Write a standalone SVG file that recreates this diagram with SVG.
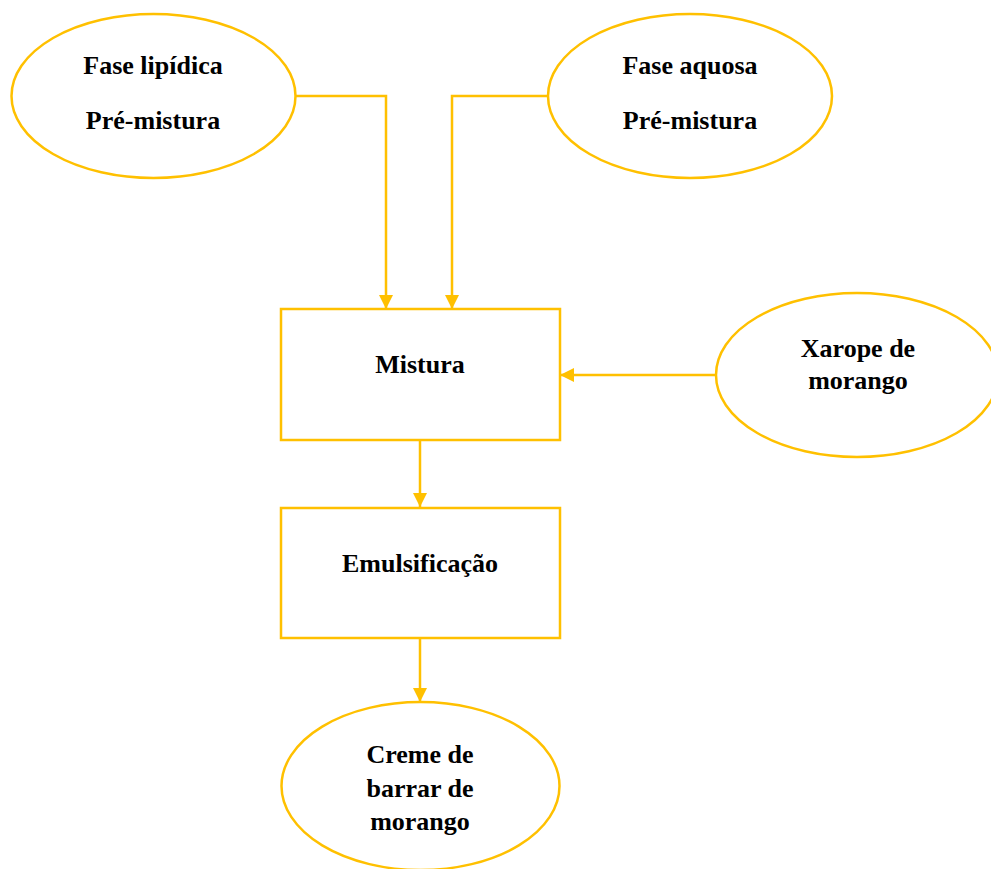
<svg xmlns="http://www.w3.org/2000/svg" width="991" height="869" viewBox="0 0 991 869">
<style>
.shape{fill:#fff;stroke:#FFC000;stroke-width:2.5}
.conn{fill:none;stroke:#FFC000;stroke-width:2.5}
text{font-family:"Liberation Serif","Times New Roman",serif;font-weight:bold;font-size:26px;fill:#000;text-anchor:middle}
</style>
<defs>
<marker id="arr" viewBox="0 0 10 10" refX="10" refY="5" markerWidth="14" markerHeight="14" markerUnits="userSpaceOnUse" orient="auto">
<path d="M0,0 L10,5 L0,10 Z" fill="#FFC000"/>
</marker>
</defs>
<rect width="991" height="869" fill="#fff"/>
<g id="connectors">
<polyline class="conn" points="296,96 386,96 386,309" marker-end="url(#arr)"/>
<polyline class="conn" points="548,96 452,96 452,309" marker-end="url(#arr)"/>
<line class="conn" x1="716" y1="375" x2="560" y2="375" marker-end="url(#arr)"/>
<line class="conn" x1="420" y1="440" x2="420" y2="507" marker-end="url(#arr)"/>
<line class="conn" x1="420" y1="638" x2="420" y2="702" marker-end="url(#arr)"/>
</g>
<g id="fase-lipidica">
<ellipse class="shape" cx="153.5" cy="96" rx="142" ry="82"/>
<text x="153" y="74">Fase lipídica</text>
<text x="153" y="129">Pré-mistura</text>
</g>
<g id="fase-aquosa">
<ellipse class="shape" cx="690" cy="96" rx="142" ry="82"/>
<text x="690" y="74">Fase aquosa</text>
<text x="690" y="129">Pré-mistura</text>
</g>
<g id="mistura">
<rect class="shape" x="281" y="309" width="279" height="131"/>
<text x="420" y="373">Mistura</text>
</g>
<g id="xarope">
<ellipse class="shape" cx="857" cy="375" rx="141" ry="82"/>
<text x="858" y="357">Xarope de</text>
<text x="858" y="389">morango</text>
</g>
<g id="emulsificacao">
<rect class="shape" x="281" y="508" width="279" height="130"/>
<text x="420" y="572">Emulsificação</text>
</g>
<g id="creme">
<ellipse class="shape" cx="420.5" cy="786" rx="139" ry="84"/>
<text x="420" y="763">Creme de</text>
<text x="420" y="797">barrar de</text>
<text x="420" y="830">morango</text>
</g>
</svg>
